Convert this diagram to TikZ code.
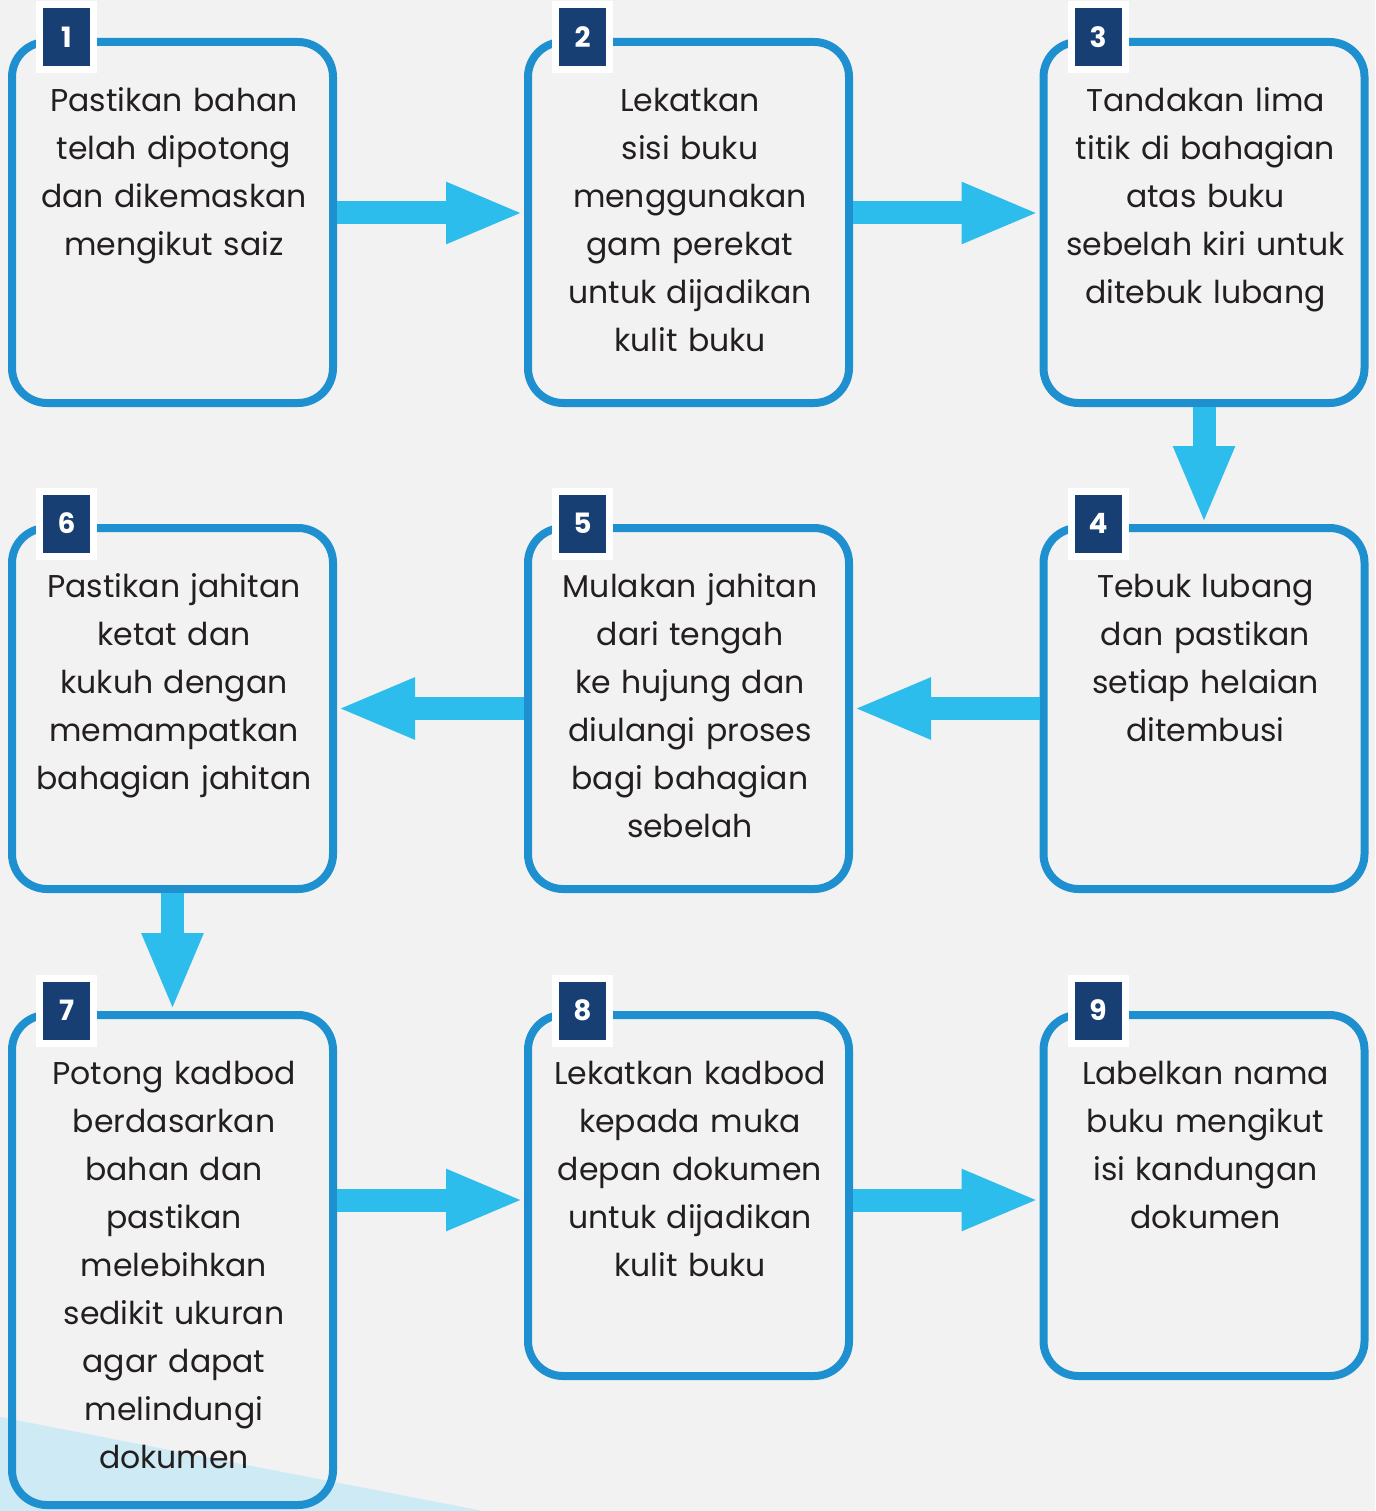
\documentclass[tikz,border=0pt]{standalone}
\usepackage{fontspec}
\setmainfont{Poppins}
\usetikzlibrary{arrows.meta,calc}
\definecolor{bg}{HTML}{F2F2F2}
\definecolor{frame}{HTML}{1E8FCF}
\definecolor{arr}{HTML}{2CBDED}
\definecolor{navy}{HTML}{173F73}
\definecolor{ink}{HTML}{231F20}
\definecolor{wedge}{HTML}{CDEAF5}
\begin{document}
\begin{tikzpicture}[x=1pt,y=-1pt,
  stepbox/.style={draw=frame, line width=8pt, rounded corners=35pt, minimum width=321pt, minimum height=361pt, inner sep=0pt},
  badge/.style={fill=navy, draw=white, line width=7pt, minimum width=54pt, minimum height=65pt, inner sep=0pt, text=white, font=\fontsize{28}{28}\selectfont\bfseries},
  steptext/.style={anchor=north, text width=320pt, align=center, inner sep=0pt, text=ink, font=\fontsize{31.5}{48}\selectfont},
  flowarrow/.style={arr, line width=23pt, -{Triangle[length=78pt,width=56pt]}}
]
\fill[bg] (0,0) rectangle (1375,1511);
\useasboundingbox (0,0) rectangle (1375,1511);
\fill[wedge] (0,1417) -- (483,1511) -- (0,1511) -- cycle;

\node[stepbox] (b1) at (172.5,222.5) {};
\node[stepbox] (b2) at (688.5,222.5) {};
\node[stepbox] (b3) at (1204,222.5) {};
\node[stepbox] (b6) at (172.5,708.5) {};
\node[stepbox] (b5) at (688.5,708.5) {};
\node[stepbox] (b4) at (1204,708.5) {};
\node[stepbox, minimum height=490pt] (b7) at (172.5,1260) {};
\node[stepbox] (b8) at (688.5,1195.5) {};
\node[stepbox] (b9) at (1204,1195.5) {};

\coordinate (r1) at (0,213);
\coordinate (r3) at (0,1200);
\draw[flowarrow] (b1.east |- r1) -- (b2.west |- r1);
\draw[flowarrow] (b2.east |- r1) -- (b3.west |- r1);
\draw[flowarrow] (b3.south) -- (b4.north);
\draw[flowarrow] (b4.west) -- (b5.east);
\draw[flowarrow] (b5.west) -- (b6.east);
\draw[flowarrow] (b6.south) -- (b7.north);
\draw[flowarrow] (b7.east |- r3) -- (b8.west |- r3);
\draw[flowarrow] (b8.east |- r3) -- (b9.west |- r3);

\foreach \b/\n in {b1/1,b2/2,b3/3,b4/4,b5/5,b6/6,b7/7,b8/8,b9/9}{
  \node[badge] (n\n) at ($(\b.north west)+(58.5,-0.5)$) {\n};
}

\node[steptext] (t1) at ($(b1.north)+(1.5,40)$) {\strut Pastikan bahan\\telah dipotong\\dan dikemaskan\\mengikut saiz};
\node[steptext] (t2) at ($(b2.north)+(1.5,40)$) {\strut Lekatkan\\sisi buku\\menggunakan\\gam perekat\\untuk dijadikan\\kulit buku};
\node[steptext] (t3) at ($(b3.north)+(1.5,40)$) {\strut Tandakan lima\\titik di bahagian\\atas buku\\sebelah kiri untuk\\ditebuk lubang};
\node[steptext] (t4) at ($(b4.north)+(1.5,40)$) {\strut Tebuk lubang\\dan pastikan\\setiap helaian\\ditembusi};
\node[steptext] (t5) at ($(b5.north)+(1.5,40)$) {\strut Mulakan jahitan\\dari tengah\\ke hujung dan\\diulangi proses\\bagi bahagian\\sebelah};
\node[steptext] (t6) at ($(b6.north)+(1.5,40)$) {\strut Pastikan jahitan\\ketat dan\\kukuh dengan\\memampatkan\\bahagian jahitan};
\node[steptext] (t7) at ($(b7.north)+(1.5,40)$) {\strut Potong kadbod\\berdasarkan\\bahan dan\\pastikan\\melebihkan\\sedikit ukuran\\agar dapat\\melindungi\\dokumen};
\node[steptext] (t8) at ($(b8.north)+(1.5,40)$) {\strut Lekatkan kadbod\\kepada muka\\depan dokumen\\untuk dijadikan\\kulit buku};
\node[steptext] (t9) at ($(b9.north)+(1.5,40)$) {\strut Labelkan nama\\buku mengikut\\isi kandungan\\dokumen};
\end{tikzpicture}
\end{document}
